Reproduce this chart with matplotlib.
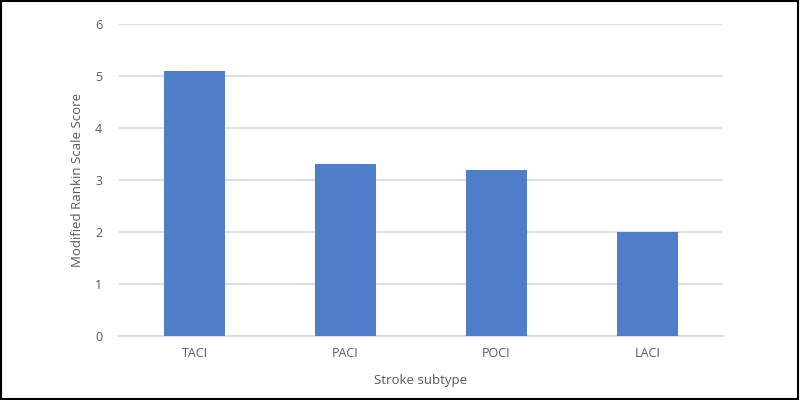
import matplotlib
matplotlib.use("Agg")
import matplotlib.pyplot as plt
from matplotlib.patches import Rectangle

categories = ["TACI", "PACI", "POCI", "LACI"]
values = [5.1, 3.3, 3.2, 2.0]
yticks = [0, 1, 2, 3, 4, 5, 6]

plt.rcParams['font.family'] = ['Open Sans', 'DejaVu Sans']

fig = plt.figure(figsize=(8, 4), dpi=100)
ax = fig.add_axes([119/800, 1-336/400, (723-119)/800, (336-24)/400])

x = list(range(len(categories)))
ax.bar(x, values, width=0.4, color="#4E7DC9", zorder=3)
ax.set_xlim(-0.5, len(categories)-0.5)
ax.set_ylim(0, 6)
ax.set_yticks(yticks)
ax.set_xticks(x)
ax.set_xticklabels(categories)
ax.yaxis.grid(True, color="#D9D9D9", linewidth=1.2, zorder=0)
for s in ["top", "right", "left"]:
    ax.spines[s].set_visible(False)
ax.spines["bottom"].set_color("#D9D9D9")
ax.spines["bottom"].set_linewidth(1.2)
ax.tick_params(axis="both", length=0, labelsize=9, colors="#595959", pad=8)
ax.tick_params(axis="y", pad=12)
ax.set_xlabel("Stroke subtype", fontsize=9.5, color="#595959", labelpad=10)
ax.set_ylabel("Modified Rankin Scale Score", fontsize=9.5, color="#595959", labelpad=8)

fig.patches.append(Rectangle((0.001, 0.002), 0.997, 0.995, transform=fig.transFigure,
                             fill=False, edgecolor="black", linewidth=1.5))

fig.savefig("out.png", dpi=100)
